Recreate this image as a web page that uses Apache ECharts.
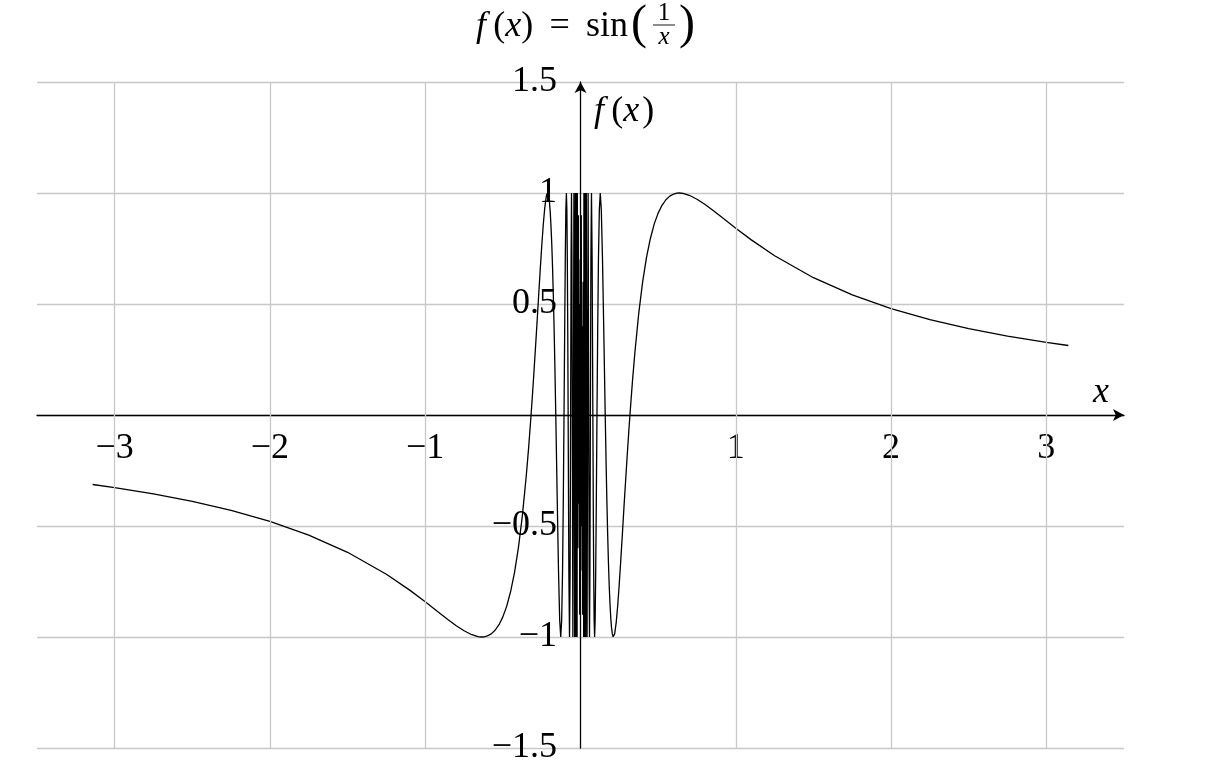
<!DOCTYPE html>
<html>
<head>
<meta charset="utf-8">
<script src="https://cdn.jsdelivr.net/npm/echarts@6/dist/echarts.min.js"></script>
<style>
  html, body { margin: 0; padding: 0; background: #fff; }
  #chart { width: 1217px; height: 773px; }
</style>
</head>
<body>
<div id="chart"></div>
<script>
// ---- data ----
// left branch (x < 0), ascending x
const negX = [
  -3.1416, -3.0, -2.75, -2.5, -2.25, -2.0, -1.75, -1.5, -1.25, -1.1, -1.0, -0.9, -0.85, -0.8, -0.75,
  -0.7, -0.66, -0.6366, -0.62, -0.6, -0.575, -0.55, -0.525, -0.5, -0.475, -0.45, -0.425, -0.4,
  -0.375, -0.35, -0.335, -0.3183, -0.31, -0.3, -0.29, -0.28, -0.27, -0.26, -0.25, -0.24, -0.23,
  -0.22, -0.215, -0.2122, -0.21, -0.205, -0.2, -0.195, -0.19, -0.185, -0.18, -0.175, -0.17,
  -0.165, -0.1592, -0.1498, -0.1415, -0.1340, -0.1273, -0.1213, -0.1157, -0.1107, -0.1061,
  -0.1019, -0.0979, -0.0943, -0.0909, -0.0878, -0.0849, -0.0821, -0.0796, -0.0749, -0.0707,
  -0.0670, -0.0637, -0.0606, -0.0579, -0.0554, -0.0531, -0.0490, -0.0424, -0.0374, -0.0335,
  -0.0303, -0.0277, -0.0255, -0.0236, -0.0220, -0.0205, -0.017, -0.014, -0.011, -0.008, -0.005, -0.002
];
const negY = [
  -0.3130, -0.3272, -0.3557, -0.3894, -0.4300, -0.4794, -0.5408, -0.6184, -0.7174, -0.7889, -0.8415, -0.8961, -0.9233, -0.9490, -0.9719,
  -0.9898, -0.9985, -1, -0.9991, -0.9954, -0.9859, -0.9696, -0.9447, -0.9093, -0.8608, -0.7952, -0.7103, -0.5985,
  -0.4575, -0.2794, -0.1560, 0, 0.0841, 0.1906, 0.3019, 0.4148, 0.5330, 0.6470, 0.7568, 0.8561, 0.9341,
  0.9862, 0.9981, 1, 0.9988, 0.9862, 0.9589, 0.9151, 0.8508, 0.7700, 0.6663, 0.5389, 0.3917,
  0.2208, 0, -0.3827, -0.7071, -0.9239, -1, -0.9239, -0.7071, -0.3827, 0,
  0.3827, 0.7071, 0.9239, 1, 0.9239, 0.7071, 0.3827, 0, -0.7071, -1,
  -0.7071, 0, 0.7071, 1, 0.7071, 0, -1, 1, -1, 1,
  -1, 1, -1, 1, -1, 1, -0.6, 0.9, -0.4, 0.5, -0.9, 0.7
];
// right branch (x > 0), ascending x
const posX = [
  0.002, 0.005, 0.008, 0.011, 0.014, 0.017, 0.0205, 0.0220, 0.0236, 0.0255, 0.0277, 0.0303,
  0.0335, 0.0374, 0.0424, 0.0490, 0.0531, 0.0554, 0.0579, 0.0606, 0.0637, 0.0670, 0.0707,
  0.0749, 0.0796, 0.0821, 0.0849, 0.0878, 0.0909, 0.0943, 0.0979, 0.1019, 0.1061, 0.1107,
  0.1157, 0.1213, 0.1273, 0.1340, 0.1415, 0.1498, 0.1592, 0.165, 0.17, 0.175, 0.18, 0.185,
  0.19, 0.195, 0.2, 0.205, 0.21, 0.2122, 0.215, 0.22, 0.23, 0.24, 0.25, 0.26, 0.27, 0.28,
  0.29, 0.3, 0.31, 0.3183, 0.335, 0.35, 0.375, 0.4, 0.425, 0.45, 0.475, 0.5, 0.525, 0.55,
  0.575, 0.6, 0.62, 0.6366, 0.66, 0.7, 0.75, 0.8, 0.85, 0.9, 1.0, 1.1, 1.25, 1.5, 1.75, 2.0,
  2.25, 2.5, 2.75, 3.0, 3.1416
];
const posY = [
  -0.7, 0.9, -0.5, 0.4, -0.9, 0.6, -1, 1, -1, 1, -1, 1,
  -1, 1, -1, 1, 0, -0.7071, -1, -0.7071, 0, 0.7071, 1,
  0.7071, 0, -0.3827, -0.7071, -0.9239, -1, -0.9239, -0.7071, -0.3827, 0, 0.3827,
  0.7071, 0.9239, 1, 0.9239, 0.7071, 0.3827, 0, -0.2208, -0.3917, -0.5389, -0.6663, -0.7700,
  -0.8508, -0.9151, -0.9589, -0.9862, -0.9988, -1, -0.9981, -0.9862, -0.9341, -0.8561, -0.7568, -0.6470, -0.5330, -0.4148,
  -0.3019, -0.1906, -0.0841, 0, 0.1560, 0.2794, 0.4575, 0.5985, 0.7103, 0.7952, 0.8608, 0.9093, 0.9447, 0.9696,
  0.9859, 0.9954, 0.9991, 1, 0.9985, 0.9898, 0.9719, 0.9490, 0.9233, 0.8961, 0.8415, 0.7889, 0.7174, 0.6184, 0.5408, 0.4794,
  0.4300, 0.3894, 0.3557, 0.3272, 0.3130
];
const xTickLabels = [-3, -2, -1, 1, 2, 3];
const yTickLabels = [-1.5, -1, -0.5, 0.5, 1, 1.5];
const xGridValues = [-3, -2, -1, 1, 2, 3];

const FONT = "'Liberation Serif', 'DejaVu Serif', serif";
const GRID_COLOR = '#c8c8c8';
const fmt = v => (v < 0 ? '\u2212' + Math.abs(v) : String(v));

const chart = echarts.init(document.getElementById('chart'), null, { renderer: 'canvas' });
const seriesData = negX.map((x, i) => [x, negY[i]]).concat(posX.map((x, i) => [x, posY[i]]));

const labelFont = { fontSize: 36, fontFamily: FONT, color: '#000', opacity: 1,
  textBorderWidth: 0, fontWeight: 'normal' };

chart.setOption({
  animation: false,
  backgroundColor: '#fff',
  grid: { left: 37, right: 93, top: 82, bottom: 25, containLabel: false, outerBoundsMode: 'none' },
  xAxis: {
    type: 'value', min: -3.5, max: 3.5, interval: 0.5,
    axisLine: { onZero: true, symbol: ['none', 'arrow'], symbolSize: [9, 11],
      lineStyle: { color: '#000', width: 1.3 } },
    axisTick: { show: false },
    splitLine: { show: false },
    axisLabel: { show: false }
  },
  yAxis: {
    type: 'value', min: -1.5, max: 1.5, interval: 0.5,
    axisLine: { onZero: true, symbol: ['none', 'arrow'], symbolSize: [9, 11],
      lineStyle: { color: '#000', width: 1.3 } },
    axisTick: { show: false },
    splitLine: { show: true, lineStyle: { color: GRID_COLOR, width: 1.3 } },
    axisLabel: { show: false }
  },
  series: [
    {
      type: 'line', data: [], z: -1, silent: true,
      markLine: {
        silent: true, animation: false, symbol: ['none', 'none'],
        label: { show: false },
        lineStyle: { color: GRID_COLOR, width: 1.3, type: 'solid' },
        data: xGridValues.map(v => ({ xAxis: v }))
      }
    },
    {
      type: 'line', data: seriesData, showSymbol: false, z: 3,
      lineStyle: { color: '#000', width: 1.3 }, clip: true
    },
    {
      type: 'scatter', silent: true, z: 4, symbolSize: 1,
      itemStyle: { color: '#fff', opacity: 0 },
      data: xTickLabels.map(v => [v, 0]),
      label: Object.assign({ show: true, position: 'bottom', distance: 15,
        formatter: p => fmt(p.value[0]) }, labelFont)
    },
    {
      type: 'scatter', silent: true, z: 4, symbolSize: 1,
      itemStyle: { color: '#fff', opacity: 0 },
      data: yTickLabels.map(v => [0, v]),
      label: Object.assign({ show: true, position: 'left', distance: 23,
        formatter: p => fmt(p.value[1]) }, labelFont)
    }
  ],
  graphic: [
    { type: 'text', x: 628, y: 27, style: {
        text: '{i|f}\u2009({i|x}) \u2009=\u2009 sin', fill: '#000', font: '36px ' + FONT,
        align: 'right', verticalAlign: 'middle',
        rich: { i: { fontStyle: 'italic', fontSize: 36, fontFamily: FONT } } } },
    { type: 'text', x: 639, y: 25, style: { text: '(', fill: '#000', font: '48px ' + FONT, align: 'center', verticalAlign: 'middle' } },
    { type: 'text', x: 664, y: 13, style: { text: '1', fill: '#000', font: '25px ' + FONT, align: 'center', verticalAlign: 'middle' } },
    { type: 'line', shape: { x1: 653, y1: 25, x2: 675, y2: 25 }, style: { stroke: '#000', lineWidth: 0.9 } },
    { type: 'text', x: 664, y: 37, style: { text: 'x', fill: '#000', font: 'italic 25px ' + FONT, align: 'center', verticalAlign: 'middle' } },
    { type: 'text', x: 687, y: 25, style: { text: ')', fill: '#000', font: '48px ' + FONT, align: 'center', verticalAlign: 'middle' } },
    { type: 'text', x: 1101, y: 393, style: { text: 'x', fill: '#000', font: 'italic 36px ' + FONT, align: 'center', verticalAlign: 'middle' } },
    { type: 'text', x: 594, y: 112, style: { text: '{i|f}\u2009({i|x}\u200a)', fill: '#000', font: '36px ' + FONT, align: 'left', verticalAlign: 'middle',
        rich: { i: { fontStyle: 'italic', fontSize: 36, fontFamily: FONT } } } }
  ]
});
</script>
</body>
</html>
